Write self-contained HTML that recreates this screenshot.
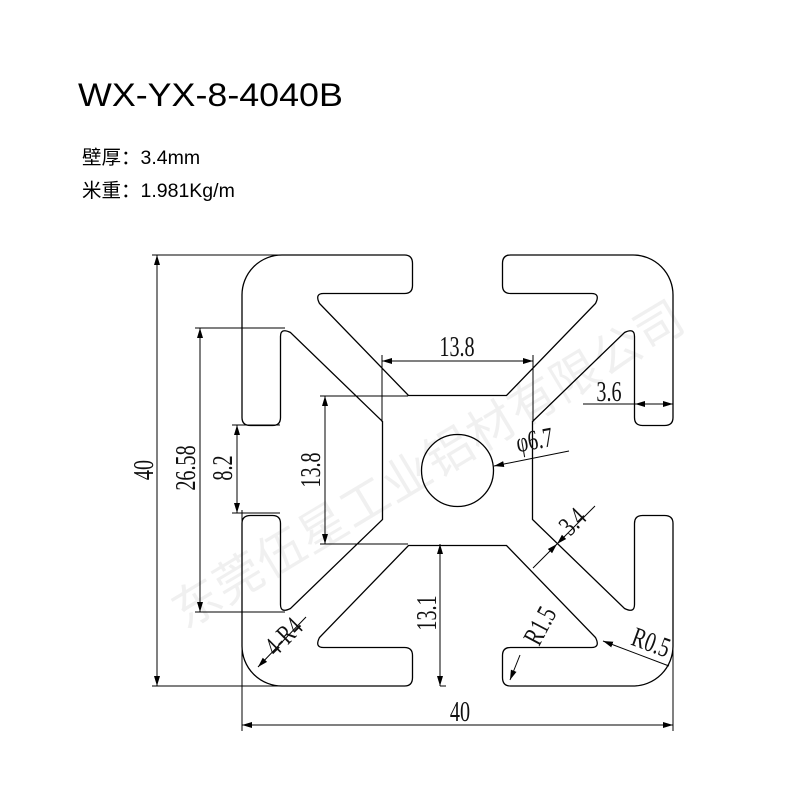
<!DOCTYPE html>
<html><head><meta charset="utf-8"><style>
html,body{margin:0;padding:0;background:#fff;}
svg{display:block;}
.d{font-family:"Liberation Serif","Noto Serif CJK SC",serif;font-size:28px;fill:#111;}
</style></head><body>
<svg width="800" height="800" viewBox="0 0 800 800" xmlns="http://www.w3.org/2000/svg">
<defs>
<marker id="a" viewBox="0 0 10 10" refX="10" refY="5" markerWidth="10" markerHeight="10" markerUnits="userSpaceOnUse" orient="auto-start-reverse"><path d="M0,2 L10,5 L0,8 z" fill="#000"/></marker>
</defs>
<text transform="translate(78,106) scale(1.12,1)" font-family="Liberation Sans, sans-serif" font-size="32" fill="#000">WX-YX-8-4040B</text>
<text x="82" y="164" font-family="Liberation Sans, Noto Sans CJK SC, sans-serif" font-size="19.5" fill="#000">壁厚：3.4mm</text>
<text x="82" y="197" font-family="Liberation Sans, Noto Sans CJK SC, sans-serif" font-size="19.5" fill="#000">米重：1.981Kg/m</text>

<text transform="translate(185,630) rotate(-31)" font-family="Liberation Sans, Noto Sans CJK SC, sans-serif" font-size="48" fill="#000" fill-opacity="0.06" letter-spacing="1">东莞伍星工业铝材有限公司</text>

<g transform="translate(457.5,470.5)" fill="none" stroke="#000" stroke-width="1.3">
<g id="q"><path d="M0,-75 L-49,-75 L-138,-167 Q-143,-177 -134,-177 L-53,-177 Q-45,-177 -45,-185 L-45,-207 Q-45,-215.5 -53,-215.5 L-175,-215.5 A40,40 0 0 0 -215.5,-175 L-215.5,-53 Q-215.5,-45 -207,-45 L-185,-45 Q-177,-45 -177,-53 L-177,-134 Q-177,-143 -167,-138 L-75,-49 L-75,0"/></g>
<use href="#q" transform="rotate(90)"/>
<use href="#q" transform="rotate(180)"/>
<use href="#q" transform="rotate(270)"/>
<circle cx="0" cy="0" r="36"/>
</g>

<g stroke="#000" stroke-width="1" fill="none">
<line x1="152" y1="255" x2="285" y2="255"/><line x1="152" y1="686" x2="285" y2="686"/>
<line x1="157" y1="255" x2="157" y2="686" marker-start="url(#a)" marker-end="url(#a)"/>
<line x1="195" y1="328" x2="285" y2="328"/><line x1="195" y1="612" x2="285" y2="612"/>
<line x1="200" y1="328" x2="200" y2="612" marker-start="url(#a)" marker-end="url(#a)"/>
<line x1="232" y1="425" x2="280" y2="425"/><line x1="232" y1="513" x2="280" y2="513"/>
<line x1="237" y1="425" x2="237" y2="513" marker-start="url(#a)" marker-end="url(#a)"/>
<line x1="320" y1="396" x2="408" y2="396"/><line x1="320" y1="544" x2="408" y2="544"/>
<line x1="325" y1="396" x2="325" y2="544" marker-start="url(#a)" marker-end="url(#a)"/>
<line x1="382" y1="355" x2="382" y2="422"/><line x1="533" y1="355" x2="533" y2="422"/>
<line x1="382" y1="361" x2="533" y2="361" marker-start="url(#a)" marker-end="url(#a)"/>
<line x1="583" y1="404" x2="635" y2="404"/>
<line x1="635" y1="404" x2="673" y2="404" marker-start="url(#a)" marker-end="url(#a)"/>
<line x1="569" y1="451" x2="494" y2="466" marker-end="url(#a)"/>
<line x1="595" y1="506" x2="557" y2="544" marker-end="url(#a)"/>
<line x1="557" y1="544" x2="533" y2="568" marker-start="url(#a)"/>
<line x1="440" y1="544" x2="440" y2="686" marker-start="url(#a)" marker-end="url(#a)"/>
<line x1="440" y1="686" x2="446" y2="686"/>
<line x1="306" y1="617" x2="258" y2="667" marker-end="url(#a)"/>
<line x1="520" y1="655" x2="510" y2="680" marker-end="url(#a)"/>
<line x1="669" y1="666" x2="603" y2="641" marker-end="url(#a)"/>
<line x1="242" y1="510" x2="242" y2="731"/><line x1="673" y1="640" x2="673" y2="731"/>
<line x1="242" y1="725" x2="673" y2="725" marker-start="url(#a)" marker-end="url(#a)"/>
</g>

<g class="d">
<text transform="translate(153,470) rotate(-90) scale(0.72,1)" text-anchor="middle">40</text>
<text transform="translate(195,468) rotate(-90) scale(0.72,1)" text-anchor="middle">26.58</text>
<text transform="translate(232,468) rotate(-90) scale(0.72,1)" text-anchor="middle">8.2</text>
<text transform="translate(320,470) rotate(-90) scale(0.72,1)" text-anchor="middle">13.8</text>
<text transform="translate(457,356) scale(0.72,1)" text-anchor="middle">13.8</text>
<text transform="translate(609,401) scale(0.72,1)" text-anchor="middle">3.6</text>
<text transform="translate(536,449) rotate(-10) scale(0.72,1)" text-anchor="middle">φ6.7</text>
<text transform="translate(579,528) rotate(-45) scale(0.72,1)" text-anchor="middle">3.4</text>
<text transform="translate(436,613) rotate(-90) scale(0.72,1)" text-anchor="middle">13.1</text>
<text transform="translate(290,643) rotate(-45) scale(0.72,1)" text-anchor="middle">4-R4</text>
<text transform="translate(548,630) rotate(-62) scale(0.72,1)" text-anchor="middle">R1.5</text>
<text transform="translate(648,651) rotate(20) scale(0.72,1)" text-anchor="middle">R0.5</text>
<text transform="translate(460,721) scale(0.72,1)" text-anchor="middle">40</text>
</g>
</svg>
</body></html>
